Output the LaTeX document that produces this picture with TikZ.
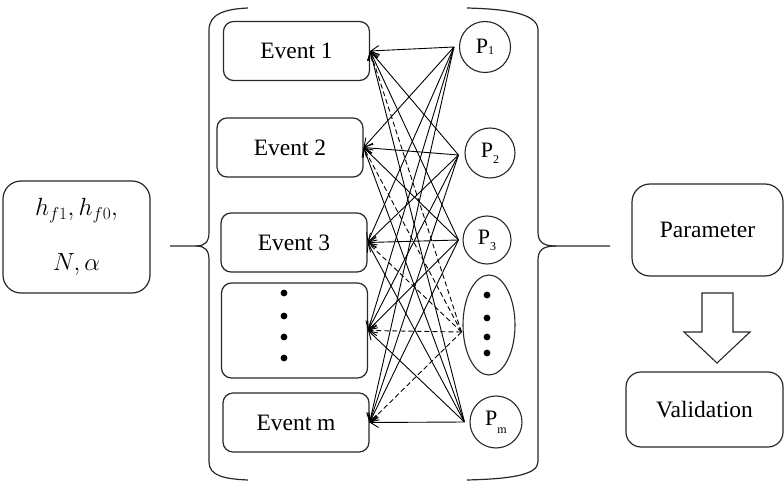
\documentclass[tikz,border=0pt]{standalone}
\usepackage{fontspec}
\setmainfont{Liberation Serif}
\usetikzlibrary{shapes.geometric,arrows.meta}
\definecolor{lineGray}{RGB}{40,40,40}
\newcommand{\psub}[2][-0.3ex]{P\raisebox{#1}{\fontsize{12}{12}\selectfont #2}}

\begin{document}
\begin{tikzpicture}[x=1pt,y=-1pt,
    roundbox/.style={draw=lineGray, line width=1.2pt, inner sep=0pt, font=\rmfamily\fontsize{23.5}{27}\selectfont},
    eventbox/.style={roundbox, rounded corners=10pt, minimum width=146pt, minimum height=59pt},
    pcircle/.style={draw=lineGray, line width=1.1pt, circle, inner sep=0pt, font=\rmfamily\fontsize{22}{26}\selectfont},
    link/.style={-{Straight Barb[length=8pt,width=10pt]}, line width=0.9pt},
    dashlink/.style={link, dash pattern=on 5pt off 3pt}]
    \useasboundingbox (0,0) rectangle (784,497);

    \node[roundbox, rounded corners=18pt, minimum width=147pt, minimum height=112pt, align=center, font=\fontsize{23}{27}\selectfont] (inputs) at (76.5,237) {$h_{f1}, h_{f0},$\\[28pt]$N, \alpha$};

    \node[eventbox] (ev1) at (296.5,51) {Event 1};
    \node[eventbox] (ev2) at (290,147.5) {Event 2};
    \node[eventbox] (ev3) at (294,242.5) {Event 3};
    \node[eventbox, minimum height=95pt] (evd) at (294.5,330.5) {};
    \node[eventbox] (evm) at (296,422.5) {Event m};
    \foreach \y in {293,316,337,358}
        \fill (284,\y) circle (3.4pt);

    \node[pcircle, minimum size=51pt] (p1) at (485,47) {\psub[-0.15ex]{1}};
    \node[pcircle, minimum size=50pt] (p2) at (490,153) {\psub[-0.6ex]{2}};
    \node[pcircle, minimum size=48pt] (p3) at (487,240) {\psub[-0.6ex]{3}};
    \node[draw=lineGray, line width=1.1pt, ellipse, minimum width=52pt, minimum height=100pt] (pd) at (489,325) {};
    \foreach \y in {295,318,337,353}
        \fill (487,\y) circle (3.4pt);
    \node[pcircle, minimum size=52pt] (pm) at (496,422) {\psub[-0.8ex]{m}};

    \coordinate (s1) at ([xshift=-5pt]p1.west);
    \coordinate (s2) at ([xshift=-6pt,yshift=-2pt]p2.west);
    \coordinate (s3) at ([xshift=-4pt]p3.west);
    \coordinate (sd) at ([xshift=-1pt,yshift=-7pt]pd.west);
    \coordinate (sm) at ([xshift=-5pt]pm.west);

    \foreach \s in {s1,s2,s3,sm}
        \foreach \t in {ev1,ev2,ev3,evd,evm}
            \draw[link] (\s) -- (\t.east);
    \foreach \t in {ev1,ev2,ev3,evd,evm}
        \draw[dashlink] (sd) -- (\t.east);

    \draw[lineGray, line width=1.2pt] (248,8) .. controls (225,9) and (209,14) .. (209,30) -- (209,232)
        .. controls (209,242) and (205,246) .. (196,246) -- (170,246);
    \draw[lineGray, line width=1.2pt] (196,246) .. controls (205,246) and (209,250) .. (209,260) -- (209,462)
        .. controls (209,476) and (225,479) .. (248,480);
    \draw[lineGray, line width=1.2pt] (467,8) .. controls (505,9) and (538,13) .. (538,30) -- (538,232)
        .. controls (538,242) and (543,246) .. (556,246) -- (610,246);
    \draw[lineGray, line width=1.2pt] (556,246) .. controls (543,246) and (538,250) .. (538,260) -- (538,462)
        .. controls (538,476) and (505,479) .. (467,480);

    \node[roundbox, rounded corners=18pt, minimum width=151pt, minimum height=92pt] (param) at (707.5,230) {\raisebox{-12pt}{Parameter}};
    \node[roundbox, rounded corners=15pt, minimum width=157pt, minimum height=75pt] (valid) at (704.5,409.5) {Validation};

    \draw[lineGray, line width=1.1pt] (702,293) -- (733,293) -- (733,332) -- (750,332) -- (717,363)
        -- (684,332) -- (702,332) -- cycle;
\end{tikzpicture}
\end{document}
